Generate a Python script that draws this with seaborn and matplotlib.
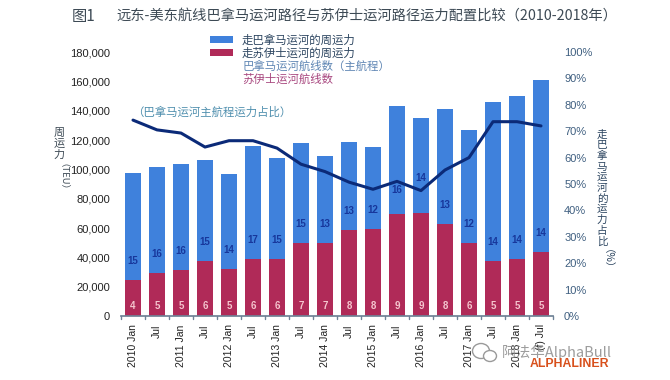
import numpy as np
import pandas as pd
import matplotlib
matplotlib.use('Agg')
import matplotlib.pyplot as plt
from matplotlib.patches import Rectangle, Ellipse
import seaborn as sns

# Values
periods = ['2010 Jan', 'Jul', '2011 Jan', 'Jul', '2012 Jan', 'Jul', '2013 Jan', 'Jul', '2014 Jan',
           'Jul', '2015 Jan', 'Jul', '2016 Jan', 'Jul', '2017 Jan', 'Jul', '2018 Jan', '(f) Jul']
total_capacity = [97500, 101600, 103600, 106400, 96800, 116100, 107700, 118000, 109300,
                  118900, 115200, 143000, 135200, 141000, 127000, 146000, 150000, 160900]
suez_capacity = [24500, 29500, 31400, 37700, 32000, 38600, 39100, 49600, 49600,
                 58600, 59300, 69500, 70400, 62700, 50000, 37700, 38900, 43600]
panama_share = [74.2, 70.5, 69.3, 64.0, 66.4, 66.4, 63.6, 57.5, 54.7,
                50.7, 48.0, 51.0, 47.5, 55.3, 60.0, 73.6, 73.6, 72.0]
panama_services = [15, 16, 16, 15, 14, 17, 15, 15, 13, 13, 12, 16, 14, 13, 12, 14, 14, 14]
suez_services = [4, 5, 5, 6, 5, 6, 6, 7, 7, 8, 8, 9, 9, 8, 6, 5, 5, 5]

BLUE = '#3f81dc'
RED = '#b02a58'
LINE = '#0b2a78'
SLATE = '#3f5f80'
CJK = ['Noto Sans CJK SC', 'DejaVu Sans']

sns.set_theme(style='white')
plt.rcParams['font.family'] = ['Liberation Sans', 'Noto Sans CJK SC', 'DejaVu Sans']

df = pd.DataFrame({'period': np.arange(len(periods)), 'total': total_capacity,
                   'suez': suez_capacity, 'share': panama_share})

fig = plt.figure(figsize=(6.7, 3.8), dpi=100)
ax = fig.add_axes([121 / 670, 1 - 316 / 380, 432 / 670, 264 / 380])

# Stacked look: the full bar in blue, the Suez part over it
sns.barplot(data=df, x='period', y='total', color=BLUE, saturation=1, width=0.64, linewidth=0, ax=ax)
sns.barplot(data=df, x='period', y='suez', color=RED, saturation=1, width=0.64, linewidth=0, ax=ax)
ax.set_ylim(0, 180000)
ax.set_xlim(-0.5, len(periods) - 0.5)
ax.set_xlabel('')
ax.set_ylabel('')
ax.set_yticks(np.arange(0, 180001, 20000))
ax.set_yticklabels([f'{v:,}' for v in range(0, 180001, 20000)], fontsize=8, color='#222222')
ax.tick_params(axis='y', length=0, pad=8)
ax.set_xticks(np.arange(len(periods)))
ax.set_xticklabels(periods, rotation=90, fontsize=7.5, color='#222222')
ax.tick_params(axis='x', length=0, pad=6)

# Ticks sit between the categories
for edge in np.arange(len(periods) + 1) - 0.5:
    ax.plot([edge, edge], [0, -0.012], transform=ax.get_xaxis_transform(),
            color='#6f8296', lw=1, clip_on=False)

for side in ['top', 'left', 'right']:
    ax.spines[side].set_visible(False)
ax.spines['bottom'].set_color('#6f8296')

# Route counts inside the bars
for i, (n_p, n_s, suez) in enumerate(zip(panama_services, suez_services, suez_capacity)):
    lift = 35 if i == 12 else 24 if i == 11 else 19
    ax.annotate(str(n_p), (i, suez), xytext=(0, lift * 0.72), textcoords='offset points',
                ha='center', va='center', fontsize=7, fontweight='bold', color='#17379c')
    ax.annotate(str(n_s), (i, 0), xytext=(0, 7.5), textcoords='offset points',
                ha='center', va='center', fontsize=7, fontweight='bold', color='#f5c6cf')

ax2 = ax.twinx()
sns.lineplot(data=df, x='period', y='share', color=LINE, lw=2.2, ax=ax2)
ax2.set_ylim(0, 100)
ax2.set_xlim(-0.5, len(periods) - 0.5)
ax2.set_ylabel('')
ax2.set_yticks(np.arange(0, 101, 10))
ax2.set_yticklabels([f'{v}%' for v in range(0, 101, 10)], fontsize=8, color=SLATE)
ax2.tick_params(axis='y', length=0, pad=8)
for side in ['top', 'left', 'right', 'bottom']:
    ax2.spines[side].set_visible(False)
ax2.grid(False)
ax.grid(False)


# Free text placed in figure pixels, measured from the top left
def px_text(x, y, s, **kw):
    kw.setdefault('family', CJK)
    return fig.text(x / 670, 1 - y / 380, s, **kw)


px_text(72, 16, '图1', fontsize=11, color='#3d4a55', va='center')
px_text(116, 16, '远东-美东航线巴拿马运河路径与苏伊士运河路径运力配置比较（2010-2018年）',
        fontsize=10.3, color='#3d4a55', va='center', fontweight='light')

# Legend by hand, the reference mixes swatches with coloured text
for y, c in [(39, BLUE), (52, RED)]:
    fig.add_artist(Rectangle((210 / 670, 1 - (y + 3.5) / 380), 23 / 670, 7 / 380,
                             transform=fig.transFigure, color=c, lw=0))
px_text(242, 40, '走巴拿马运河的周运力', fontsize=8.2, color='#2c4560', va='center')
px_text(242, 53, '走苏伊士运河的周运力', fontsize=8.2, color='#2c4560', va='center')
px_text(242, 66, '巴拿马运河航线数（主航程）', fontsize=8.2, color='#5f86b4', va='center')
px_text(242, 79, '苏伊士运河航线数', fontsize=8.2, color='#a8477f', va='center')
px_text(132, 112, '（巴拿马运河主航程运力占比）', fontsize=8.2, color='#4f8fae', va='center')

# Axis titles, upright characters stacked
px_text(59, 144, '\n'.join('周运力'), fontsize=8, color='#3d4a55', ha='center', va='center',
        linespacing=1.1)
px_text(59, 182, '（TEU）', fontsize=6.8, color='#3d4a55', ha='center', va='center', rotation=270)
px_text(602, 188, '\n'.join('走巴拿马运河的运力占比'), fontsize=7.6, color='#2c4560', ha='center',
        va='center', linespacing=1.08)
px_text(602, 264, '（%）', fontsize=7.5, color='#2c4560', ha='center', va='center', rotation=270)

# Watermarks at the bottom right
for cx, cy, w, h in [(481, 351, 17, 15), (490, 356, 13, 11)]:
    fig.add_artist(Ellipse((cx / 670, 1 - cy / 380), w / 670, h / 380, transform=fig.transFigure,
                           fc='white', ec='#9a9a9a', lw=1))
px_text(502, 352, '阿法华AlphaBull', fontsize=10.5, color='#8c8c8c', va='center', alpha=0.85)
px_text(530, 364, 'ALPHALINER', fontsize=8.8, color='#d8501c', va='center', fontweight='bold',
        family=['Liberation Sans'])

fig.savefig('out.png', dpi=100)
